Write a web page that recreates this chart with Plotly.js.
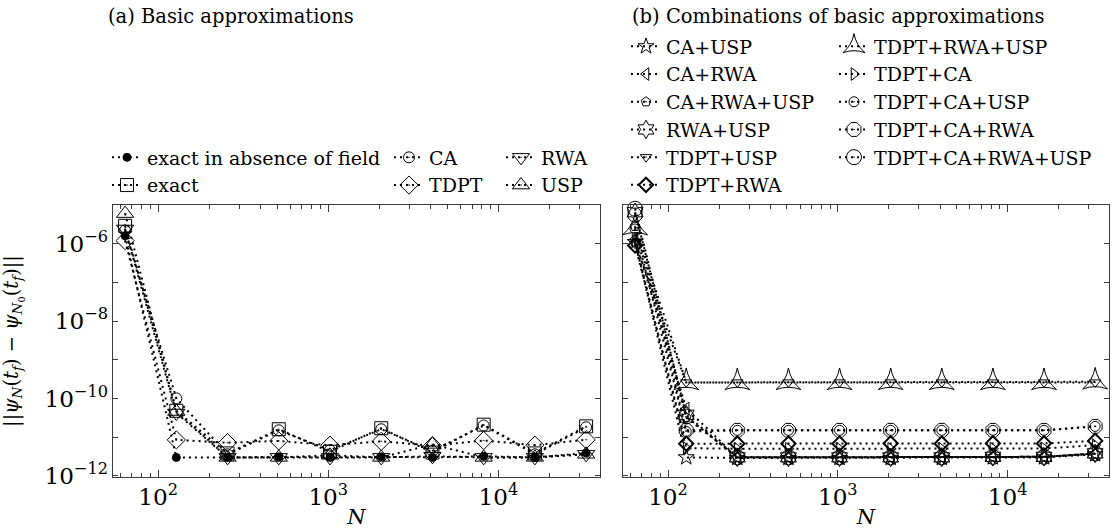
<!DOCTYPE html>
<html>
<head>
<meta charset="utf-8">
<script src="https://cdn.plot.ly/plotly-3.0.1.min.js"></script>
<style>
  html, body { margin: 0; padding: 0; background: #fff; }
  #chart { width: 1115px; height: 529px; }
</style>
</head>
<body>
<div id="chart"></div>
<script>
// Grid sizes N and the error norms of each approximation
const N = [64, 128, 256, 512, 1024, 2048, 4096, 8192, 16384, 32768];

// (a) basic approximations
const exactNoField = [1.6e-6, 3.0e-12, 3.0e-12, 3.1e-12, 3.0e-12, 3.1e-12, 3.0e-12, 3.2e-12, 3.0e-12, 3.9e-12];
const exactVals    = [2.9e-6, 4.8e-11, 3.8e-12, 1.6e-11, 4.2e-12, 1.7e-11, 4.0e-12, 2.1e-11, 3.8e-12, 1.9e-11];
const caVals       = [2.2e-6, 1.0e-10, 3.6e-12, 1.5e-11, 4.6e-12, 1.6e-11, 4.4e-12, 2.0e-11, 3.6e-12, 1.8e-11];
const tdptVals     = [1.2e-6, 8.5e-12, 7.2e-12, 8.0e-12, 6.2e-12, 7.8e-12, 6.0e-12, 8.2e-12, 6.2e-12, 8.6e-12];
const rwaVals      = [2.4e-6, 4.2e-11, 3.0e-12, 3.0e-12, 3.0e-12, 3.0e-12, 3.2e-12, 3.0e-12, 3.0e-12, 3.6e-12];
const uspVals      = [6.0e-6, 4.6e-11, 3.0e-12, 3.0e-12, 3.4e-12, 3.0e-12, 6.5e-12, 3.0e-12, 3.0e-12, 3.6e-12];

// (b) combinations of basic approximations
const caUsp        = [1.1e-6, 3.0e-12, 2.9e-12, 2.9e-12, 2.9e-12, 2.9e-12, 2.9e-12, 3.0e-12, 3.0e-12, 3.6e-12];
const caRwa        = [1.3e-6, 5.5e-11, 3.0e-12, 3.0e-12, 3.0e-12, 3.0e-12, 3.0e-12, 3.1e-12, 3.1e-12, 3.7e-12];
const caRwaUsp     = [2.8e-6, 3.2e-11, 3.0e-12, 3.0e-12, 3.0e-12, 3.0e-12, 3.0e-12, 3.1e-12, 3.1e-12, 3.7e-12];
const rwaUsp       = [6.5e-6, 3.8e-11, 3.0e-12, 3.0e-12, 3.0e-12, 3.0e-12, 3.0e-12, 3.1e-12, 3.1e-12, 3.8e-12];
const tdptUsp      = [1.0e-6, 2.6e-10, 2.6e-10, 2.6e-10, 2.6e-10, 2.6e-10, 2.6e-10, 2.6e-10, 2.6e-10, 2.6e-10];
const tdptRwa      = [0.9e-6, 6.8e-12, 6.8e-12, 6.8e-12, 6.8e-12, 6.9e-12, 6.8e-12, 6.9e-12, 6.9e-12, 8.0e-12];
const tdptRwaUsp   = [2.6e-6, 2.6e-10, 2.6e-10, 2.6e-10, 2.6e-10, 2.6e-10, 2.6e-10, 2.6e-10, 2.6e-10, 2.7e-10];
const tdptCa       = [1.2e-6, 5.2e-12, 5.0e-12, 5.0e-12, 5.0e-12, 5.0e-12, 5.0e-12, 5.1e-12, 5.1e-12, 6.2e-12];
const tdptCaUsp    = [2.4e-6, 1.4e-11, 1.5e-11, 1.5e-11, 1.5e-11, 1.5e-11, 1.5e-11, 1.5e-11, 1.5e-11, 1.9e-11];
const tdptCaRwa    = [5.5e-6, 1.5e-11, 1.5e-11, 1.5e-11, 1.5e-11, 1.5e-11, 1.5e-11, 1.5e-11, 1.5e-11, 1.9e-11];
const tdptCaRwaUsp = [8.0e-6, 3.4e-11, 3.0e-12, 3.0e-12, 3.0e-12, 3.0e-12, 3.0e-12, 3.1e-12, 3.1e-12, 3.8e-12];

// Plot-area geometry in pixels
const W = 1115, H = 529;
const PL = 113, PR = 1109, PT = 205, PB = 477;
const fx = p => (p - PL) / (PR - PL);
const fy = p => (PB - p) / (PB - PT);

const FONT = 'DejaVu Serif';
const INK = '#000';
const AXC = '#3c3c3c';
const dotted = { color: INK, width: 2, dash: '2px,4px' };

function series(name, y, symbol, size, axis, legend, group, mlw) {
  return {
    type: 'scatter', mode: 'lines+markers', name: name,
    x: N, y: y,
    xaxis: axis === 2 ? 'x2' : 'x', yaxis: axis === 2 ? 'y2' : 'y',
    legend: legend, legendgroup: group,
    line: dotted,
    marker: { symbol: symbol, size: size, color: INK,
              line: { color: INK, width: mlw || 1 } },
    cliponaxis: false
  };
}

const traces = [
  series('exact in absence of field', exactNoField, 'circle', 8, 1, 'legend', 'a1'),
  series('exact', exactVals, 'square-open-dot', 13, 1, 'legend', 'a2'),
  series('CA', caVals, 'circle-open-dot', 11, 1, 'legend2', 'a3'),
  series('TDPT', tdptVals, 'diamond-open-dot', 14, 1, 'legend2', 'a4'),
  series('RWA', rwaVals, 'triangle-down-open-dot', 15, 1, 'legend3', 'a5'),
  series('USP', uspVals, 'triangle-up-open-dot', 15, 1, 'legend3', 'a6'),

  series('CA+USP', caUsp, 'star-open', 12, 2, 'legend4', 'b1'),
  series('CA+RWA', caRwa, 'triangle-left-open', 11, 2, 'legend4', 'b2'),
  series('CA+RWA+USP', caRwaUsp, 'pentagon-open-dot', 10, 2, 'legend4', 'b3'),
  series('RWA+USP', rwaUsp, 'hexagram-open', 14, 2, 'legend4', 'b4'),
  series('TDPT+USP', tdptUsp, 'triangle-down-open-dot', 10, 2, 'legend4', 'b5'),
  series('TDPT+RWA', tdptRwa, 'diamond-open', 11, 2, 'legend4', 'b6', 2),
  series('TDPT+RWA+USP', tdptRwaUsp, 'star-triangle-up-open', 18, 2, 'legend5', 'b7'),
  series('TDPT+CA', tdptCa, 'triangle-right-open', 11, 2, 'legend5', 'b8'),
  series('TDPT+CA+USP', tdptCaUsp, 'circle-open-dot', 10, 2, 'legend5', 'b9'),
  series('TDPT+CA+RWA', tdptCaRwa, 'octagon-open-dot', 15, 2, 'legend5', 'b10'),
  series('TDPT+CA+RWA+USP', tdptCaRwaUsp, 'circle-open-dot', 15, 2, 'legend5', 'b11')
];

const frame = {
  showline: true, linecolor: AXC, linewidth: 1.3, mirror: 'ticks',
  ticks: 'inside', tickcolor: AXC, tickwidth: 1,
  showgrid: false, zeroline: false
};

function xAxis(domain, anchor) {
  return Object.assign({}, frame, {
    type: 'log', domain: domain, anchor: anchor,
    range: [1.735, 4.597],
    tickmode: 'linear', tick0: 0, dtick: 1, exponentformat: 'power',
    ticklen: 7,
    minor: { ticks: 'inside', ticklen: 4, dtick: 'D1', tickcolor: AXC, showgrid: false },
    tickfont: { family: FONT, size: 18.5, color: INK },
    title: { text: '<i>N</i>', font: { family: FONT, size: 21, color: INK }, standoff: 2 }
  });
}

function yAxis(anchor, labels) {
  return Object.assign({}, frame, {
    type: 'log', domain: [0, 1], anchor: anchor,
    range: [-12.03, -5.0],
    tickmode: 'linear', tick0: 0, dtick: 2, exponentformat: 'power',
    ticklen: 5, showticklabels: labels,
    minor: { ticks: 'inside', ticklen: 5, tick0: 0, dtick: 1, tickcolor: AXC, showgrid: false },
    tickfont: { family: FONT, size: 18.5, color: INK }
  });
}

const legendBase = {
  bgcolor: 'rgba(0,0,0,0)', borderwidth: 0, orientation: 'v',
  xanchor: 'left', yanchor: 'top', itemwidth: 30, tracegroupgap: 0,
  font: { family: FONT, size: 19, color: INK }, itemclick: false, itemdoubleclick: false
};

const layout = {
  width: W, height: H,
  margin: { l: PL, r: W - PR, t: PT, b: H - PB, pad: 0 },
  paper_bgcolor: '#fff', plot_bgcolor: '#fff',
  font: { family: FONT, size: 19, color: INK },
  showlegend: true,
  xaxis: xAxis([0, fx(600)], 'y'),
  yaxis: Object.assign(yAxis('x', true), {
    title: {
      text: '||<i>ψ</i><sub><i>N</i></sub>(<i>t</i><sub><i>f</i></sub>) − <i>ψ</i><sub><i>N</i><sub>0</sub></sub>(<i>t</i><sub><i>f</i></sub>)||',
      font: { family: FONT, size: 19.5, color: INK }, standoff: 24
    }
  }),
  xaxis2: xAxis([fx(623), 1], 'y2'),
  yaxis2: yAxis('x2', false),
  legend:  Object.assign({}, legendBase, { x: fx(107), y: fy(138.5) }),
  legend2: Object.assign({}, legendBase, { x: fx(389), y: fy(138.5) }),
  legend3: Object.assign({}, legendBase, { x: fx(501), y: fy(138.5) }),
  legend4: Object.assign({}, legendBase, { x: fx(626), y: fy(27.5) }),
  legend5: Object.assign({}, legendBase, { x: fx(834), y: fy(27.5) }),
  annotations: [
    { text: '(a) Basic approximations', xref: 'paper', yref: 'paper',
      x: fx(106), y: fy(16), xanchor: 'left', yanchor: 'middle', showarrow: false,
      font: { family: FONT, size: 19.5, color: INK } },
    { text: '(b) Combinations of basic approximations', xref: 'paper', yref: 'paper',
      x: fx(630), y: fy(16), xanchor: 'left', yanchor: 'middle', showarrow: false,
      font: { family: FONT, size: 19.5, color: INK } }
  ]
};

Plotly.newPlot('chart', traces, layout, { displayModeBar: false, staticPlot: true });
</script>
</body>
</html>
